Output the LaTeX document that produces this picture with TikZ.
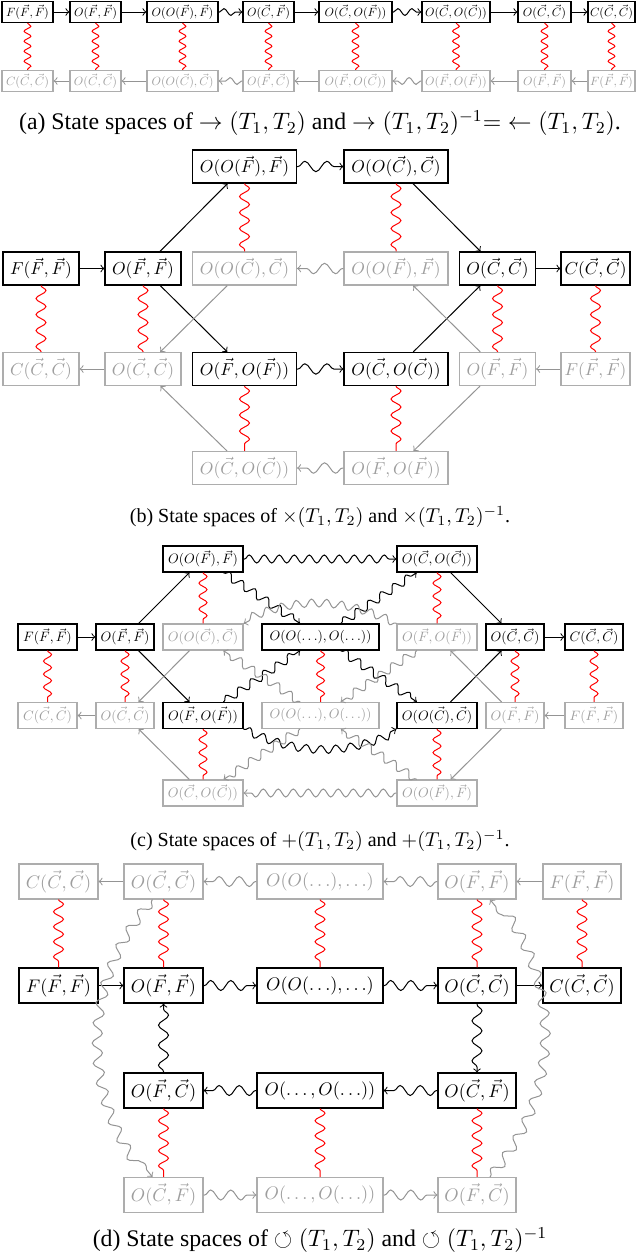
\RequirePackage{fix-cm}
\documentclass[tikz,border=0pt]{standalone}
\usepackage{graphicx}
\usepackage{amssymb}
\usepackage{fontspec}
\setmainfont{Liberation Serif}
\usetikzlibrary{decorations.pathmorphing}
\newcommand{\Fv}{\vec{F}}
\newcommand{\Cv}{\vec{C}}
\newcommand{\nsa}[1]{\scalebox{0.60}{$#1$}}
\newcommand{\nsb}[1]{\scalebox{0.865}{$#1$}}
\newcommand{\nsc}[1]{\scalebox{0.68}{$#1$}}
\newcommand{\nsd}[1]{\scalebox{0.91}{$#1$}}
\begin{document}
\begin{tikzpicture}[x=0.5pt,y=-0.5pt,
  st/.style={draw=black, text=black, line width=0.55pt, inner sep=0.5pt, font=\fontsize{10}{12}\selectfont},
  gs/.style={draw=black!32, text=black!38, line width=0.55pt, inner sep=0.5pt, font=\fontsize{10}{12}\selectfont},
  fa/.style={minimum height=10.5pt},
  fb/.style={minimum height=16.5pt},
  fc/.style={minimum height=13pt},
  fd/.style={minimum height=17.5pt},
  ar/.style={->, draw=black, line width=0.5pt},
  gar/.style={->, draw=black!42, line width=0.5pt},
  rl/.style={draw=red, line width=0.5pt, decorate},
  wva/.style={decorate, decoration={snake, amplitude=1.7pt, segment length=7pt, pre length=0.5pt, post length=2pt}},
  wvb/.style={decorate, decoration={snake, amplitude=2.6pt, segment length=11pt, pre length=0.5pt, post length=2pt}},
  wvc/.style={decorate, decoration={snake, amplitude=2pt, segment length=7.5pt, pre length=0.5pt, post length=2pt}},
  wvd/.style={decorate, decoration={snake, amplitude=2.5pt, segment length=10pt, pre length=0.5pt, post length=2pt}},
  rda/.style={rl, decoration={snake, amplitude=1.7pt, segment length=5pt}},
  rdb/.style={rl, decoration={snake, amplitude=2.5pt, segment length=8pt}},
  rdc/.style={rl, decoration={snake, amplitude=2pt, segment length=6.5pt}},
  rdd/.style={rl, decoration={snake, amplitude=2.5pt, segment length=7.5pt}},
  capbig/.style={font=\fontsize{11.9}{13}\selectfont, inner sep=0pt},
  capsml/.style={font=\fontsize{10}{12}\selectfont, inner sep=0pt},
]
\useasboundingbox (0,0) rectangle (640,1254);

%%%%%%%%%%%%%%%% (a)
\node[st,fa,minimum width=25.5pt] (a1) at (27.5,12) {\nsa{F(\Fv,\Fv)}};
\node[st,fa,minimum width=25.5pt] (a2) at (95.5,12) {\nsa{O(\Fv,\Fv)}};
\node[st,fa,minimum width=35.5pt] (a3) at (182.5,12) {\nsa{O(O(\Fv),\Fv)}};
\node[st,fa,minimum width=25.5pt] (a4) at (268.5,12) {\nsa{O(\Cv,\Fv)}};
\node[st,fa,minimum width=36.5pt] (a5) at (355.5,12) {\nsa{O(\Cv,O(\Fv))}};
\node[st,fa,minimum width=34pt] (a6) at (456,12) {\nsa{O(\Cv,O(\Cv))}};
\node[st,fa,minimum width=26.5pt] (a7) at (544.5,12) {\nsa{O(\Cv,\Cv)}};
\node[st,fa,minimum width=23.5pt] (a8) at (611.5,12) {\nsa{C(\Cv,\Cv)}};
\node[gs,fa,minimum width=25.5pt] (ga1) at (27.5,81) {\nsa{C(\Cv,\Cv)}};
\node[gs,fa,minimum width=25.5pt] (ga2) at (95.5,81) {\nsa{O(\Cv,\Cv)}};
\node[gs,fa,minimum width=35.5pt] (ga3) at (182.5,81) {\nsa{O(O(\Cv),\Cv)}};
\node[gs,fa,minimum width=25.5pt] (ga4) at (268.5,81) {\nsa{O(\Fv,\Cv)}};
\node[gs,fa,minimum width=36.5pt] (ga5) at (355.5,81) {\nsa{O(\Fv,O(\Cv))}};
\node[gs,fa,minimum width=34pt] (ga6) at (456,81) {\nsa{O(\Fv,O(\Fv))}};
\node[gs,fa,minimum width=26.5pt] (ga7) at (544.5,81) {\nsa{O(\Fv,\Fv)}};
\node[gs,fa,minimum width=23.5pt] (ga8) at (611.5,81) {\nsa{F(\Fv,\Fv)}};
\draw[ar] (a1) -- (a2);
\draw[ar] (a2) -- (a3);
\draw[ar,wva] (a3) -- (a4);
\draw[ar] (a4) -- (a5);
\draw[ar,wva] (a5) -- (a6);
\draw[ar] (a6) -- (a7);
\draw[ar] (a7) -- (a8);
\draw[gar] (ga2) -- (ga1);
\draw[gar] (ga3) -- (ga2);
\draw[gar,wva] (ga4) -- (ga3);
\draw[gar] (ga5) -- (ga4);
\draw[gar,wva] (ga6) -- (ga5);
\draw[gar] (ga7) -- (ga6);
\draw[gar] (ga8) -- (ga7);
\foreach \i in {1,...,8} {\draw[rda] (a\i) -- (ga\i);}
\node[capbig] (capa) at (320,123) {(a) State spaces of $\rightarrow(T_1,T_2)$ and $\rightarrow(T_1,T_2)^{-1}{=}\leftarrow(T_1,T_2)$.};

%%%%%%%%%%%%%%%% (b)
\node[st,fb,minimum width=52pt] (bt1) at (244.5,166.5) {\nsb{O(O(\Fv),\Fv)}};
\node[st,fb,minimum width=52pt] (bt2) at (396,166.5) {\nsb{O(O(\Cv),\Cv)}};
\node[st,fb,minimum width=38pt] (b1) at (41,268.5) {\nsb{F(\Fv,\Fv)}};
\node[st,fb,minimum width=38pt] (b2) at (143,268.5) {\nsb{O(\Fv,\Fv)}};
\node[gs,fb,minimum width=52pt] (gb3) at (244.5,268.5) {\nsb{O(O(\Cv),\Cv)}};
\node[gs,fb,minimum width=52pt] (gb4) at (396,268.5) {\nsb{O(O(\Fv),\Fv)}};
\node[st,fb,minimum width=38pt] (b5) at (497.5,268.5) {\nsb{O(\Cv,\Cv)}};
\node[st,fb,minimum width=34.5pt] (b6) at (595.5,268.5) {\nsb{C(\Cv,\Cv)}};
\node[gs,fb,minimum width=38pt] (gb1) at (41,369) {\nsb{C(\Cv,\Cv)}};
\node[gs,fb,minimum width=38pt] (gb2) at (143,369) {\nsb{O(\Cv,\Cv)}};
\node[st,fb,minimum width=52pt] (b3) at (244.5,369) {\nsb{O(\Fv,O(\Fv))}};
\node[st,fb,minimum width=52pt] (b4) at (396,369) {\nsb{O(\Cv,O(\Cv))}};
\node[gs,fb,minimum width=38pt] (gb5) at (497.5,369) {\nsb{O(\Fv,\Fv)}};
\node[gs,fb,minimum width=34.5pt] (gb6) at (595.5,369) {\nsb{F(\Fv,\Fv)}};
\node[gs,fb,minimum width=52pt] (gbb1) at (244.5,468) {\nsb{O(\Cv,O(\Cv))}};
\node[gs,fb,minimum width=52pt] (gbb2) at (396,468) {\nsb{O(\Fv,O(\Fv))}};
\draw[ar] (b1) -- (b2);
\draw[ar] (b2) -- (bt1);
\draw[ar,wvb] (bt1) -- (bt2);
\draw[ar] (bt2) -- (b5);
\draw[ar] (b5) -- (b6);
\draw[ar] (b2) -- (b3);
\draw[ar,wvb] (b3) -- (b4);
\draw[ar] (b4) -- (b5);
\draw[gar] (gb6) -- (gb5);
\draw[gar] (gb5) -- (gb4);
\draw[gar,wvb] (gb4) -- (gb3);
\draw[gar] (gb3) -- (gb2);
\draw[gar] (gb2) -- (gb1);
\draw[gar] (gb5) -- (gbb2);
\draw[gar,wvb] (gbb2) -- (gbb1);
\draw[gar] (gbb1) -- (gb2);
\draw[rdb] (b1) -- (gb1);
\draw[rdb] (b2) -- (gb2);
\draw[rdb] (bt1) -- (gb3);
\draw[rdb] (bt2) -- (gb4);
\draw[rdb] (b5) -- (gb5);
\draw[rdb] (b6) -- (gb6);
\draw[rdb] (b3) -- (gbb1);
\draw[rdb] (b4) -- (gbb2);
\node[capsml] (capb) at (320,517) {(b) State spaces of $\times(T_1,T_2)$ and $\times(T_1,T_2)^{-1}$.};

%%%%%%%%%%%%%%%% (c)
\node[st,fc,minimum width=40pt] (ct1) at (203,559) {\nsc{O(O(\Fv),\Fv)}};
\node[st,fc,minimum width=40pt] (ct2) at (437,559) {\nsc{O(\Cv,O(\Cv))}};
\node[st,fc,minimum width=29.5pt] (c1) at (47.5,637) {\nsc{F(\Fv,\Fv)}};
\node[st,fc,minimum width=29pt] (c2) at (125,637) {\nsc{O(\Fv,\Fv)}};
\node[gs,fc,minimum width=40pt] (gc3) at (203,637) {\nsc{O(O(\Cv),\Cv)}};
\node[st,fc,minimum width=58.5pt] (cm) at (320.5,637) {\nsc{O(O(\ldots),O(\ldots))}};
\node[gs,fc,minimum width=40pt] (gc4) at (437,637) {\nsc{O(\Fv,O(\Fv))}};
\node[st,fc,minimum width=29pt] (c5) at (515,637) {\nsc{O(\Cv,\Cv)}};
\node[st,fc,minimum width=29pt] (c6) at (594,637) {\nsc{C(\Cv,\Cv)}};
\node[gs,fc,minimum width=29.5pt] (gc1) at (47.5,715.5) {\nsc{C(\Cv,\Cv)}};
\node[gs,fc,minimum width=29pt] (gc2) at (125,715.5) {\nsc{O(\Cv,\Cv)}};
\node[st,fc,minimum width=40pt] (c3) at (203,715.5) {\nsc{O(\Fv,O(\Fv))}};
\node[gs,fc,minimum width=58.5pt] (gcm) at (320.5,715.5) {\nsc{O(O(\ldots),O(\ldots))}};
\node[st,fc,minimum width=40pt] (c4) at (437,715.5) {\nsc{O(O(\Cv),\Cv)}};
\node[gs,fc,minimum width=29pt] (gc5) at (515,715.5) {\nsc{O(\Fv,\Fv)}};
\node[gs,fc,minimum width=29pt] (gc6) at (594,715.5) {\nsc{F(\Fv,\Fv)}};
\node[gs,fc,minimum width=40pt] (gcb1) at (203,793) {\nsc{O(\Cv,O(\Cv))}};
\node[gs,fc,minimum width=40pt] (gcb2) at (437,793) {\nsc{O(O(\Fv),\Fv)}};
\draw[ar] (c1) -- (c2);
\draw[ar] (c2) -- (ct1);
\draw[ar] (c2) -- (c3);
\draw[ar,wvc] (ct1) -- (ct2);
\draw[ar,wvc] (ct1) -- (cm);
\draw[ar,wvc] (c3) -- (cm);
\draw[ar,wvc] (c3.south east) to[bend right=25] (c4.south west);
\draw[ar,wvc] (cm) -- (ct2);
\draw[ar,wvc] (cm) -- (c4);
\draw[ar] (ct2) -- (c5);
\draw[ar] (c4) -- (c5);
\draw[ar] (c5) -- (c6);
\draw[gar] (gc6) -- (gc5);
\draw[gar] (gc5) -- (gc4);
\draw[gar] (gc5) -- (gcb2);
\draw[gar,wvc] (gcb2) -- (gcb1);
\draw[gar,wvc] (gcb2) -- (gcm);
\draw[gar,wvc] (gc4) -- (gcm);
\draw[gar,wvc] (gc4.north west) to[bend right=25] (gc3.north east);
\draw[gar,wvc] (gcm) -- (gcb1);
\draw[gar,wvc] (gcm) -- (gc3);
\draw[gar] (gcb1) -- (gc2);
\draw[gar] (gc3) -- (gc2);
\draw[gar] (gc2) -- (gc1);
\draw[rdc] (c1) -- (gc1);
\draw[rdc] (c2) -- (gc2);
\draw[rdc] (ct1) -- (gc3);
\draw[rdc] (cm) -- (gcm);
\draw[rdc] (ct2) -- (gc4);
\draw[rdc] (c5) -- (gc5);
\draw[rdc] (c6) -- (gc6);
\draw[rdc] (c3) -- (gcb1);
\draw[rdc] (c4) -- (gcb2);
\node[capsml] (capc) at (320,841) {(c) State spaces of $+(T_1,T_2)$ and $+(T_1,T_2)^{-1}$.};

%%%%%%%%%%%%%%%% (d)
\node[gs,fd,minimum width=39.5pt] (gd1) at (58.5,881.5) {\nsd{C(\Cv,\Cv)}};
\node[gs,fd,minimum width=39.5pt] (gd2) at (163.5,881.5) {\nsd{O(\Cv,\Cv)}};
\node[gs,fd,minimum width=63pt] (gd3) at (320,881.5) {\nsd{O(O(\ldots),\ldots)}};
\node[gs,fd,minimum width=39pt] (gd4) at (477,881.5) {\nsd{O(\Fv,\Fv)}};
\node[gs,fd,minimum width=39pt] (gd5) at (582,881.5) {\nsd{F(\Fv,\Fv)}};
\node[st,fd,minimum width=39.5pt] (d1) at (58.5,985.5) {\nsd{F(\Fv,\Fv)}};
\node[st,fd,minimum width=39.5pt] (d2) at (163.5,985.5) {\nsd{O(\Fv,\Fv)}};
\node[st,fd,minimum width=63pt] (d3) at (320,985.5) {\nsd{O(O(\ldots),\ldots)}};
\node[st,fd,minimum width=39pt] (d4) at (477,985.5) {\nsd{O(\Cv,\Cv)}};
\node[st,fd,minimum width=39pt] (d5) at (582,985.5) {\nsd{C(\Cv,\Cv)}};
\node[st,fd,minimum width=39.5pt] (d6) at (163.5,1090.5) {\nsd{O(\Fv,\Cv)}};
\node[st,fd,minimum width=63pt] (d7) at (320,1090.5) {\nsd{O(\ldots,O(\ldots))}};
\node[st,fd,minimum width=39pt] (d8) at (477,1090.5) {\nsd{O(\Cv,\Fv)}};
\node[gs,fd,minimum width=39.5pt] (gd6) at (163.5,1195) {\nsd{O(\Cv,\Fv)}};
\node[gs,fd,minimum width=63pt] (gd7) at (320,1195) {\nsd{O(\ldots,O(\ldots))}};
\node[gs,fd,minimum width=39pt] (gd8) at (477,1195) {\nsd{O(\Fv,\Cv)}};
\draw[ar] (d1) -- (d2);
\draw[ar,wvd] (d2) -- (d3);
\draw[ar,wvd] (d3) -- (d4);
\draw[ar] (d4) -- (d5);
\draw[ar,wvd] (d4) -- (d8);
\draw[ar,wvd] (d8) -- (d7);
\draw[ar,wvd] (d7) -- (d6);
\draw[ar,wvd] (d6) -- (d2);
\draw[gar] (gd5) -- (gd4);
\draw[gar,wvd] (gd4) -- (gd3);
\draw[gar,wvd] (gd3) -- (gd2);
\draw[gar] (gd2) -- (gd1);
\draw[gar,wvd] ([xshift=-5.5pt]gd2.south) to[bend right=40] ([xshift=-5.5pt]gd6.north);
\draw[gar,wvd] (gd6) -- (gd7);
\draw[gar,wvd] (gd7) -- (gd8);
\draw[gar,wvd] ([xshift=6.5pt]gd8.north) to[bend right=40] ([xshift=6.5pt]gd4.south);
\draw[rdd] (gd1) -- (d1);
\draw[rdd] (gd2) -- (d2);
\draw[rdd] (gd3) -- (d3);
\draw[rdd] (gd4) -- (d4);
\draw[rdd] (gd5) -- (d5);
\draw[rdd] (d6) -- (gd6);
\draw[rdd] (d7) -- (gd7);
\draw[rdd] (d8) -- (gd8);
\node[capbig] (capd) at (320,1240) {(d) State spaces of $\circlearrowleft(T_1,T_2)$ and $\circlearrowleft(T_1,T_2)^{-1}$};
\end{tikzpicture}
\end{document}
